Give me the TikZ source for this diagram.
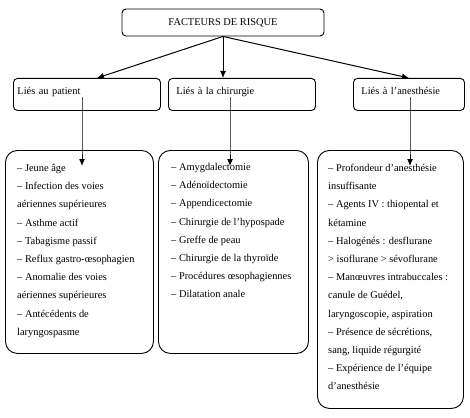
\documentclass[tikz,border=0pt]{standalone}
\usepackage{fontspec}
\setmainfont{Liberation Serif}
\usetikzlibrary{arrows.meta}

\tikzset{titre/.style = {draw, rounded corners=4pt, line width=0.9pt,
                         minimum width=202pt, minimum height=27pt},
         categorie/.style = {draw, rounded corners=4pt, line width=0.9pt,
                             anchor=north west, minimum height=32pt,
                             text height=6pt, text depth=5pt,
                             inner xsep=8pt, text width=#1, align=left},
         boite/.style = {draw, rounded corners=12pt, line width=0.9pt,
                         anchor=north west, inner sep=0pt},
         liste/.style = {anchor=north west, inner sep=0pt, align=left,
                         font=\fontsize{10.4}{18.2}\selectfont},
         fleche/.style = {line width=1pt, -{Latex[length=7pt,width=6pt]}},
         every node/.style = {font=\fontsize{10.4}{12}\selectfont}
        }

\begin{document}
\begin{tikzpicture}[x=1pt, y=-1pt]
  \useasboundingbox (0,0) rectangle (470,417);
  % niveau 1
  \node[titre] (risque) at (223,22.5) {FACTEURS DE RISQUE};
  % niveau 2
  \node[categorie=139pt, inner xsep=4pt] (pat) at (13,78) {Liés au patient};
  \node[categorie=131pt] (chi) at (168,78) {Liés à la chirurgie};
  \node[categorie=95pt] (ane) at (353,78) {Liés à l’anesthésie};
  % niveau 3
  \node[boite, minimum width=148pt, minimum height=203pt] (lpat) at (5,150) {};
  \node[boite, minimum width=150pt, minimum height=203pt] (lchi) at (158,150) {};
  \node[boite, minimum width=146pt, minimum height=258pt] (lane) at (317,150) {};

  \node[liste] (tpat) at (17,164) {– Jeune âge\\
    – Infection des voies\\ aériennes supérieures\\
    – Asthme actif\\ – Tabagisme passif\\
    – Reflux gastro-œsophagien\\
    – Anomalie des voies\\ aériennes supérieures\\
    – Antécédents de\\ laryngospasme};
  \node[liste] (tchi) at (171,163) {– Amygdalectomie\\
    – Adénoïdectomie\\ – Appendicectomie\\
    – Chirurgie de l’hypospade\\ – Greffe de peau\\
    – Chirurgie de la thyroïde\\
    – Procédures œsophagiennes\\ – Dilatation anale};
  \node[liste] (tane) at (328,164) {– Profondeur d’anesthésie\\ insuffisante\\
    – Agents IV : thiopental et\\ kétamine\\
    – Halogénés : desflurane\\ > isoflurane > sévoflurane\\
    – Manœuvres intrabuccales :\\ canule de Guédel,\\
    laryngoscopie, aspiration\\
    – Présence de sécrétions,\\ sang, liquide régurgité\\
    – Expérience de l’équipe\\ d’anesthésie};

  % fleches
  \coordinate (p1) at (97,78);
  \draw[fleche] (risque.south) -- (p1);
  \draw[fleche] (risque.south) -- (risque.south |- chi.north);
  \draw[fleche] (risque.south) -- (ane.north);

  \coordinate (d1) at (82,97);
  \coordinate (d2) at (230,97);
  \coordinate (d3) at (410,97);
  \draw[fleche] (d1) -- (d1 |- lpat.north) -- ++(0,16);
  \draw[fleche] (d2) -- (d2 |- lchi.north) -- ++(0,16);
  \draw[fleche] (d3) -- (d3 |- lane.north) -- ++(0,16);
\end{tikzpicture}
\end{document}
